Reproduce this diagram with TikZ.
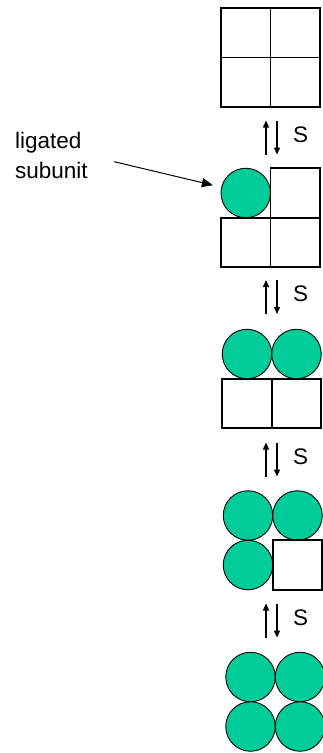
\documentclass[tikz,border=0pt]{standalone}
\usepackage{fontspec}
\setmainfont{Liberation Sans}
\usetikzlibrary{arrows.meta,positioning}

\definecolor{ligand}{RGB}{0,204,153}

\tikzset{
  emptycell/.style={draw, line width=1.7pt, minimum size=49.5pt, inner sep=0pt, outer sep=0pt},
  boundcell/.style={circle, draw, line width=0.9pt, fill=ligand, minimum size=49.5pt, inner sep=0pt, outer sep=0pt},
  eqarrow/.style={line width=1.4pt, -{Triangle[length=7pt,width=6pt]}},
  txt/.style={font=\fontsize{22.5}{30}\selectfont, inner sep=0pt},
}

\begin{document}
\begin{tikzpicture}[x=1pt,y=-1pt]
  \useasboundingbox (0,0) rectangle (322,753);
  % empty tetramer
  \node[emptycell] (c1a) at (245.75,32.75) {};
  \node[emptycell, right=0pt of c1a] (c1b) {};
  \node[emptycell, below=0pt of c1a] (c1c) {};
  \node[emptycell, right=0pt of c1c] (c1d) {};
  % one subunit bound
  \node[boundcell] (c2a) at (245.75,193) {};
  \node[emptycell, right=0pt of c2a] (c2b) {};
  \node[emptycell, below=0pt of c2a] (c2c) {};
  \node[emptycell, right=0pt of c2c] (c2d) {};
  % two bound
  \node[boundcell] (c3a) at (247,354) {};
  \node[boundcell, right=0pt of c3a] (c3b) {};
  \node[emptycell, below=0pt of c3a] (c3c) {};
  \node[emptycell, right=0pt of c3c] (c3d) {};
  % three bound
  \node[boundcell] (c4a) at (248,515.5) {};
  \node[boundcell, right=0pt of c4a] (c4b) {};
  \node[boundcell, below=0pt of c4a] (c4c) {};
  \node[emptycell, right=0pt of c4c] (c4d) {};
  % all four bound
  \node[boundcell] (c5a) at (250.5,677) {};
  \node[boundcell, right=0pt of c5a] (c5b) {};
  \node[boundcell, below=0pt of c5a] (c5c) {};
  \node[boundcell, right=0pt of c5c] (c5d) {};
  % equilibrium arrows
  \foreach \i/\y in {1/137.5, 2/297, 3/459.5, 4/620.5} {
    \coordinate (ub\i) at (266,\y+17);
    \coordinate (ut\i) at (266,\y-17);
    \coordinate (dt\i) at (277,\y-17);
    \coordinate (db\i) at (277,\y+17);
    \draw[eqarrow] (ub\i) -- (ut\i);
    \draw[eqarrow] (dt\i) -- (db\i);
    \node[txt, anchor=west] (s\i) at (293,\y-3) {S};
  }
  % label
  \node[txt, align=left, anchor=north west] (lbl) at (15,132) {ligated\\subunit};
  \draw[line width=1pt, -{Triangle[length=11pt,width=9pt]}, shorten <=27pt, shorten >=9pt]
    (lbl.east) -- (c2a);
\end{tikzpicture}
\end{document}
